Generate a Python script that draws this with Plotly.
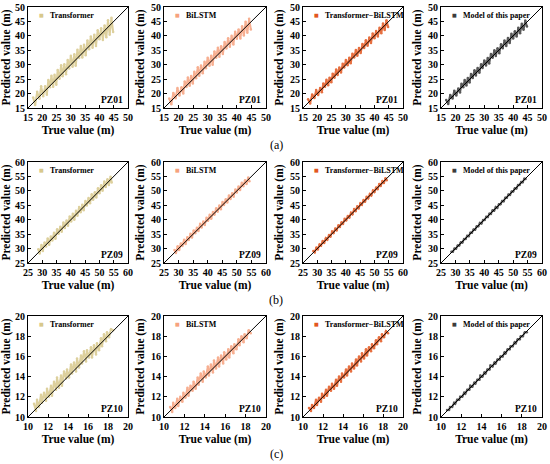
import plotly.graph_objects as go

# axis ranges per well (row)
wells = ["PZ01", "PZ09", "PZ10"]
axis_ranges = [[15, 50], [25, 60], [10, 20]]
tick_steps = [5, 5, 2]
row_tags = ["(a)", "(b)", "(c)"]

models = ["Transformer", "BiLSTM", "Transformer\u2212BiLSTM", "Model of this paper"]
model_colors = ["#d8c88c", "#f6a27e", "#e2561f", "#3c3c3c"]

# ---- PZ01 ----
true_pz01 = [16.8, 17.5, 18.2, 19.0, 19.6, 20.3, 21.0, 21.6, 22.1, 22.7, 23.2, 23.8,
             24.3, 24.9, 25.4, 26.0, 26.6, 27.1, 27.7, 28.3, 28.9, 29.4, 30.0, 30.6,
             31.2, 31.7, 32.3, 32.9, 33.5, 34.0, 34.6, 35.2, 35.8, 36.4, 37.0, 37.6,
             38.2, 38.8, 39.4, 40.0, 40.6, 41.2, 41.8, 42.4, 43.0, 43.6, 44.2, 44.8]
transformer_pz01 = [18.6, 16.0, 20.6, 18.2, 22.5, 19.1, 22.5, 19.6, 24.7, 22.2, 26.2, 22.4,
                    26.5, 23.1, 28.2, 25.1, 29.8, 26.0, 30.2, 26.7, 31.6, 28.7, 33.1, 29.3,
                    33.6, 29.6, 35.2, 32.3, 36.5, 32.5, 36.9, 33.3, 38.4, 35.4, 39.8, 35.9,
                    40.4, 36.5, 41.9, 38.8, 42.6, 38.6, 43.6, 39.5, 45.4, 40.4, 46.3, 41.3]
bilstm_pz01 = [18.3, 16.3, 20.2, 18.4, 21.9, 19.3, 22.2, 20.0, 24.2, 22.3, 25.6, 22.7,
               26.1, 23.5, 27.6, 25.3, 29.1, 26.2, 29.7, 27.0, 31.0, 28.8, 32.4, 29.6,
               33.1, 30.0, 34.6, 32.4, 35.9, 32.8, 36.4, 33.7, 37.9, 35.6, 39.2, 36.2,
               40.0, 37.0, 41.4, 39.0, 42.2, 39.1, 43.3, 40.1, 44.9, 41.1, 45.9, 42.2]
tbilstm_pz01 = [18.0, 16.6, 19.7, 18.5, 21.2, 19.5, 21.9, 20.5, 23.5, 22.4, 24.8, 22.9,
                25.5, 23.9, 26.9, 25.5, 28.3, 26.4, 29.0, 27.3, 30.3, 29.0, 31.6, 29.8,
                32.4, 30.5, 33.8, 32.5, 35.1, 33.1, 35.8, 34.1, 37.2, 35.8, 38.5, 36.6,
                39.4, 37.5, 40.8, 39.2, 41.7, 39.8, 42.8, 40.9, 44.3, 42.0, 45.4, 43.1]
ours_pz01 = [17.8, 16.4, 19.5, 18.3, 21.0, 19.3, 21.8, 20.4, 23.4, 22.2, 24.7, 22.8,
             25.4, 23.8, 26.8, 25.4, 28.1, 26.3, 28.9, 27.2, 30.2, 28.9, 31.5, 29.7,
             32.3, 30.4, 33.7, 32.4, 35.0, 33.0, 35.7, 34.0, 37.1, 35.7, 38.4, 36.5,
             39.3, 37.5, 40.7, 39.1, 41.6, 39.8, 42.8, 40.9, 44.2, 42.1, 45.3, 43.2]

# ---- PZ09 ----
true_pz09 = [28.6, 29.1, 29.7, 30.2, 30.8, 31.3, 31.9, 32.4, 33.0, 33.5, 34.1, 34.6,
             35.2, 35.7, 36.3, 36.8, 37.4, 37.9, 38.5, 39.0, 39.6, 40.1, 40.7, 41.2,
             41.8, 42.3, 42.9, 43.4, 44.0, 44.5, 45.1, 45.6, 46.2, 46.7, 47.3, 47.8,
             48.4, 48.9, 49.5, 50.0, 50.6, 51.1, 51.7, 52.2, 52.8, 53.3, 53.9, 54.3]
transformer_pz09 = [29.8, 28.3, 31.2, 29.2, 32.1, 30.7, 33.5, 31.3, 34.2, 32.8, 35.5, 33.4,
                    36.7, 35.1, 37.6, 35.8, 39.0, 37.1, 39.7, 37.9, 41.1, 39.4, 42.1, 40.0,
                    43.1, 41.4, 44.4, 42.6, 45.2, 43.3, 46.5, 44.9, 47.5, 45.7, 48.8, 46.9,
                    49.5, 47.7, 50.9, 49.2, 51.9, 50.0, 53.2, 51.3, 54.0, 52.0, 54.9, 52.9]
bilstm_pz09 = [29.5, 28.5, 30.8, 29.5, 31.8, 30.9, 33.1, 31.6, 33.9, 33.0, 35.1, 33.8,
               36.3, 35.3, 37.2, 36.1, 38.6, 37.3, 39.4, 38.2, 40.7, 39.6, 41.7, 40.3,
               42.7, 41.7, 44.0, 42.8, 44.9, 43.6, 46.1, 45.1, 47.1, 46.0, 48.4, 47.2,
               49.2, 48.0, 50.5, 49.4, 51.5, 50.3, 52.8, 51.6, 53.7, 52.4, 54.6, 53.3]
tbilstm_pz09 = [29.2, 28.7, 30.4, 29.7, 31.4, 31.0, 32.6, 31.9, 33.6, 33.1, 34.7, 34.1,
                35.9, 35.4, 36.9, 36.3, 38.1, 37.5, 39.1, 38.5, 40.3, 39.7, 41.3, 40.7,
                42.4, 41.9, 43.7, 42.9, 44.7, 43.9, 45.7, 45.2, 46.8, 46.2, 48.0, 47.4,
                48.9, 48.4, 50.1, 49.6, 51.2, 50.6, 52.4, 51.7, 53.4, 52.7, 54.4, 53.7]
ours_pz09 = [28.9, 28.9, 30.0, 29.9, 31.1, 31.1, 32.2, 32.1, 33.3, 33.3, 34.4, 34.3,
             35.5, 35.5, 36.6, 36.5, 37.7, 37.7, 38.9, 38.7, 39.9, 39.9, 41.0, 40.9,
             42.1, 42.0, 43.3, 43.1, 44.4, 44.1, 45.4, 45.4, 46.5, 46.4, 47.6, 47.6,
             48.7, 48.6, 49.8, 49.8, 50.9, 50.8, 52.0, 52.0, 53.1, 53.0, 54.2, 54.1]

# ---- PZ10 ----
true_pz10 = [10.6, 10.8, 10.9, 11.1, 11.3, 11.4, 11.6, 11.8, 11.9, 12.1, 12.3, 12.4,
             12.6, 12.8, 12.9, 13.1, 13.3, 13.4, 13.6, 13.8, 13.9, 14.1, 14.3, 14.4,
             14.6, 14.8, 14.9, 15.1, 15.3, 15.4, 15.6, 15.8, 15.9, 16.1, 16.3, 16.4,
             16.6, 16.8, 16.9, 17.1, 17.3, 17.4, 17.6, 17.8, 17.9, 18.1, 18.3, 18.5]
transformer_pz10 = [11.3, 10.6, 11.7, 11.0, 12.2, 11.4, 12.4, 11.6, 12.8, 12.0, 13.1, 12.1,
                    13.5, 12.7, 13.9, 12.9, 14.1, 13.1, 14.5, 13.8, 14.7, 13.9, 15.2, 14.3,
                    15.4, 14.5, 15.8, 14.9, 16.1, 15.3, 16.5, 15.5, 16.6, 15.9, 16.9, 15.9,
                    17.1, 16.2, 17.3, 16.6, 17.8, 17.0, 18.2, 17.5, 18.4, 17.9, 18.7, 18.6]
bilstm_pz10 = [11.0, 10.5, 11.4, 10.9, 11.8, 11.1, 12.0, 11.5, 12.4, 11.9, 12.9, 12.1,
               13.1, 12.6, 13.5, 12.8, 13.9, 13.2, 14.3, 13.5, 14.5, 13.9, 15.0, 14.1,
               15.2, 14.4, 15.6, 14.8, 15.9, 15.0, 16.1, 15.3, 16.4, 15.7, 16.7, 15.9,
               17.0, 16.3, 17.2, 16.7, 17.7, 17.1, 18.0, 17.4, 18.2, 17.8, 18.6, 18.3]
tbilstm_pz10 = [10.9, 10.6, 11.2, 10.9, 11.7, 11.2, 11.9, 11.5, 12.3, 11.9, 12.7, 12.1,
                13.0, 12.6, 13.3, 12.8, 13.7, 13.1, 14.0, 13.5, 14.3, 13.9, 14.7, 14.1,
                15.0, 14.5, 15.3, 14.8, 15.7, 15.1, 16.0, 15.5, 16.3, 15.8, 16.7, 16.1,
                16.9, 16.5, 17.2, 16.8, 17.6, 17.2, 17.9, 17.5, 18.2, 17.9, 18.5, 18.3]
ours_pz10 = [10.7, 10.7, 11.0, 11.0, 11.4, 11.3, 11.7, 11.7, 12.0, 12.0, 12.4, 12.3,
             12.7, 12.7, 13.1, 13.0, 13.4, 13.3, 13.7, 13.7, 14.1, 14.0, 14.4, 14.3,
             14.7, 14.7, 15.1, 15.0, 15.4, 15.3, 15.7, 15.7, 16.0, 16.0, 16.4, 16.3,
             16.7, 16.7, 17.0, 17.0, 17.4, 17.3, 17.7, 17.7, 18.0, 18.0, 18.4, 18.4]

true_values = [true_pz01, true_pz09, true_pz10]
predicted = [
    [transformer_pz01, bilstm_pz01, tbilstm_pz01, ours_pz01],
    [transformer_pz09, bilstm_pz09, tbilstm_pz09, ours_pz09],
    [transformer_pz10, bilstm_pz10, tbilstm_pz10, ours_pz10],
]

# panel positions in pixels (550 x 464 page)
W, H = 550, 464
col_px = [(28, 128), (164, 266), (303, 403), (441, 542)]
row_px = [(7, 108), (162, 263), (316, 417)]

FONT = "Liberation Serif"

fig = go.Figure()
layout = {}
annotations = []

for r in range(3):
    lo, hi = axis_ranges[r]
    y0p, y1p = row_px[r]
    ydom = [1 - y1p / H, 1 - y0p / H]
    for c in range(4):
        n = r * 4 + c + 1
        sfx = "" if n == 1 else str(n)
        xa, ya = "x" + sfx, "y" + sfx
        x0p, x1p = col_px[c]
        xdom = [x0p / W, x1p / W]
        color = model_colors[c]

        # scatter cloud
        fig.add_trace(go.Scatter(
            x=true_values[r], y=predicted[r][c], mode="lines+markers",
            line=dict(color=color, width=2),
            marker=dict(color=color, size=2.5),
            opacity=0.85,
            xaxis=xa, yaxis=ya, showlegend=False, hoverinfo="skip"))
        # 1:1 line
        fig.add_trace(go.Scatter(
            x=axis_ranges[r], y=axis_ranges[r], mode="lines",
            line=dict(color="black", width=1),
            xaxis=xa, yaxis=ya, showlegend=False, hoverinfo="skip"))

        ax_common = dict(
            range=[lo, hi], dtick=tick_steps[r], tick0=lo,
            showgrid=False, zeroline=False, automargin=False,
            showline=True, linecolor="black", linewidth=1, mirror=True,
            ticks="inside", ticklen=3, tickcolor="black",
            tickfont=dict(family=FONT, size=10, color="black", weight="bold"),
        )
        layout["xaxis" + sfx] = dict(
            ax_common, domain=xdom, anchor=ya,
            title=dict(text="True value (m)", standoff=3,
                       font=dict(family=FONT, size=11.5, color="black", weight="bold")))
        layout["yaxis" + sfx] = dict(
            ax_common, domain=ydom, anchor=xa,
            title=dict(text="Predicted value (m)", standoff=3,
                       font=dict(family=FONT, size=11.5, color="black", weight="bold")))

        # legend: coloured dot + label
        annotations.append(dict(
            text="\u25a0", xref="paper", yref="paper",
            x=(x0p + 13) / W, y=1 - (y0p + 8) / H, xanchor="center", yanchor="middle",
            showarrow=False, font=dict(family="DejaVu Sans", size=5, color=color)))
        annotations.append(dict(
            text="<b>" + models[c] + "</b>", xref="paper", yref="paper",
            x=(x0p + 20) / W, y=1 - (y0p + 8) / H, xanchor="left", yanchor="middle",
            showarrow=False, font=dict(family=FONT, size=8, color="black")))

        annotations.append(dict(
            text="<b>" + wells[r] + "</b>", xref="paper", yref="paper",
            x=(x1p - 3) / W, y=1 - (y1p - 1) / H, xanchor="right", yanchor="bottom",
            showarrow=False, font=dict(family=FONT, size=9.5, color="black")))

    annotations.append(dict(
        text=row_tags[r], xref="paper", yref="paper",
        x=276 / W, y=1 - (row_px[r][1] + 37) / H, xanchor="center", yanchor="middle",
        showarrow=False, font=dict(family=FONT, size=12, color="black")))

fig.update_layout(
    width=W, height=H,
    margin=dict(l=0, r=0, t=0, b=0),
    paper_bgcolor="white", plot_bgcolor="white",
    annotations=annotations,
    **layout)

# drop the default page margin so the figure sits at the window corner
fig.write_html("out.html", config={"displayModeBar": False},
               post_script="document.body.style.margin='0';")
